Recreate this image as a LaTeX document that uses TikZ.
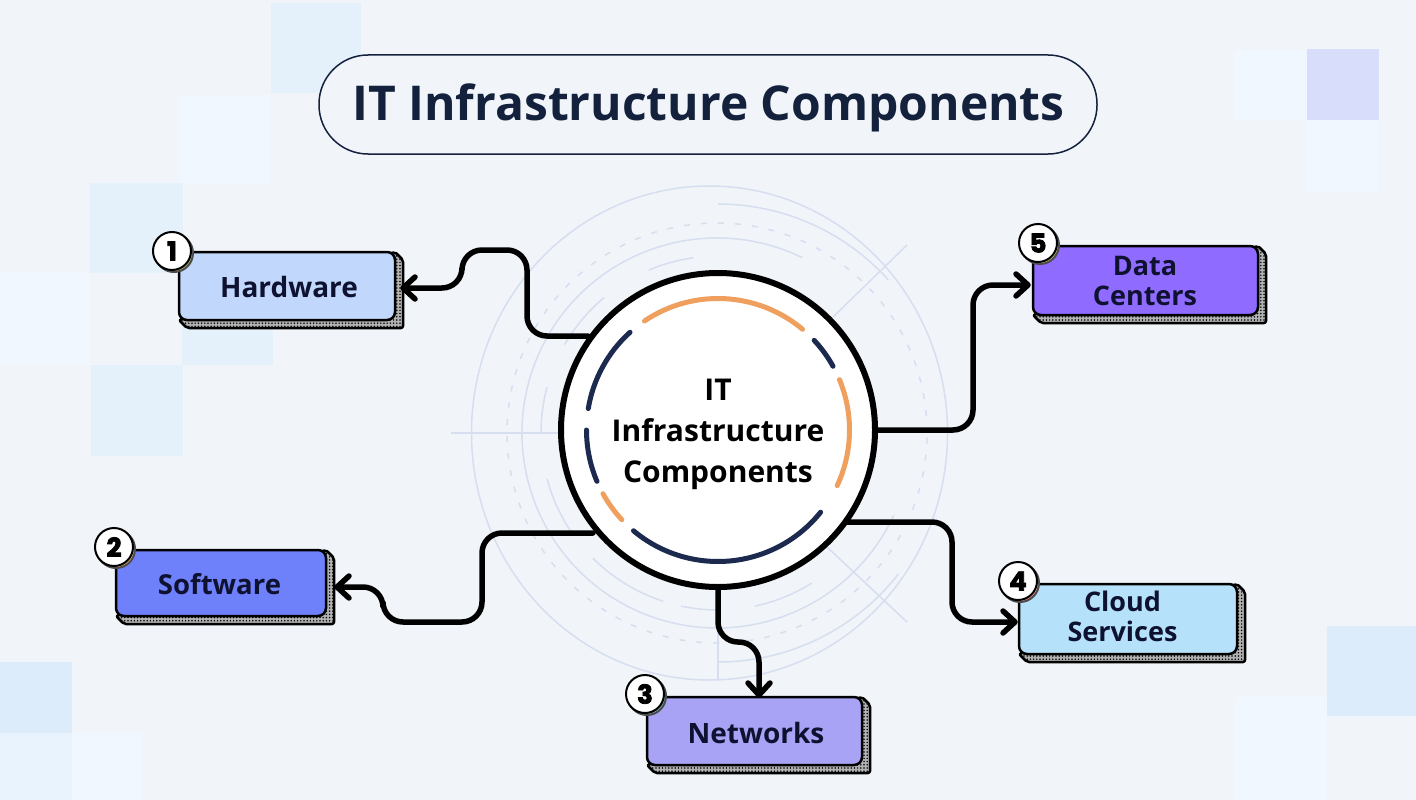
\documentclass[tikz,border=0pt]{standalone}
\usepackage{fontspec}
\setmainfont{Open Sans}[BoldFont={Open Sans Bold}]
\newfontfamily\numf[BoldFeatures={FakeBold=3}]{Poppins}
\usetikzlibrary{arrows.meta,patterns.meta}
\definecolor{bgc}{HTML}{F1F5FA}
\definecolor{navy}{HTML}{14213D}
\definecolor{ringc}{HTML}{D6DEEF}
\definecolor{orangec}{HTML}{EFA05E}
\definecolor{navyarc}{HTML}{1B2A4E}
\definecolor{sqa}{HTML}{E4F1FA}
\definecolor{sqb}{HTML}{F1F7FE}
\definecolor{sqc}{HTML}{D9DDFC}
\definecolor{sqd}{HTML}{DDECFA}
\definecolor{sqe}{HTML}{E9F3FD}
\definecolor{hwc}{HTML}{C1D7FB}
\definecolor{swc}{HTML}{6E80FA}
\definecolor{nwc}{HTML}{A9A3F5}
\definecolor{clc}{HTML}{B5E2FA}
\definecolor{dcc}{HTML}{8F6BFF}
\definecolor{txtc}{HTML}{0E1230}
\newcommand{\ringarc}[7][ringline]{\draw[#1] ({#2+#4*cos(#5)},{#3-#4*sin(#5)}) arc[start angle=#5,end angle=#6,radius=#4 pt]#7;}
\tikzset{
  x=1pt,y=-1pt,
  ringline/.style={draw=ringc,line width=1.5pt},
  ringdash/.style={draw=ringc,line width=1.5pt,dash pattern=on 6pt off 11pt},
  arcor/.style={draw=orangec,line width=5pt,line cap=round},
  arcna/.style={draw=navyarc,line width=5pt,line cap=round},
  compbox/.style={draw=black,line width=2.5pt,rounded corners=8pt,minimum height=#1,inner sep=0pt},
  boxlabel/.style={inner sep=0pt,align=center,text=txtc,font=\bfseries\fontsize{#1}{30}\selectfont},
  shadowbox/.style={draw=black,line width=2.5pt,fill=black!30,line join=round,rounded corners=2pt,postaction={pattern={Dots[distance=3.2pt,radius=0.85pt]},pattern color=black}},
  badge/.style={circle,draw=black,line width=2pt,fill=white,minimum size=38pt,inner sep=0pt,font=\numf\bfseries\fontsize{26}{26}\selectfont,text=black},
  conn/.style={draw=black,line width=5.5pt,rounded corners=20pt,line cap=round},
  connarrow/.style={conn,-{Straight Barb[length=12pt,width=22pt,line width=5.5pt,round]}},
}
\newcommand{\sq}[5]{\fill[#1] (#2,#3) rectangle (#4,#5);}
\newcommand{\boxshadow}[4]{\draw[shadowbox] (#1,#4) -- (#1+8,#4+8) -- (#3+8,#4+8) -- (#3+8,#2+8) -- (#3,#2) -- cycle;}
\begin{document}
\begin{tikzpicture}
\useasboundingbox (0,0) rectangle (1416,800);
\fill[bgc] (0,0) rectangle (1416,800);
% background squares
\sq{sqa}{271}{3}{361}{93}
\sq{sqc}{1307}{49}{1379}{120}
\sq{sqa}{90}{183}{183}{273}
\sq{sqa}{91}{365}{183}{456}
\sq{sqa}{182}{273}{273}{365}
\sq{sqd}{0}{662}{72}{733}
\sq{sqd}{1327}{626}{1416}{716}
\sq{sqb}{0}{273}{90}{365}
\sq{sqb}{180}{95}{270}{183}
\sq{sqb}{1235}{50}{1307}{120}
\sq{sqb}{1307}{120}{1379}{192}
\sq{sqb}{1235}{697}{1327}{800}
\sq{sqb}{72}{733}{142}{800}
\sq{sqe}{0}{733}{72}{800}
% decorative rings
\draw[ringline] (709.5,433) ellipse[x radius=238pt,y radius=247pt];
\ringarc{717}{433}{195}{64}{335}{}
\draw[ringdash] (717,433) circle[radius=210pt];
\ringarc{718}{433}{229}{90}{42}{}
\ringarc{718}{433}{229}{270}{322}{}
\ringarc{718}{433}{177}{98}{113}{}
\ringarc{718}{433}{177}{130}{150}{}
\ringarc{718}{433}{177}{165}{180}{}
\ringarc{718}{433}{177}{195}{215}{}
\ringarc{718}{433}{177}{225}{252}{}
\ringarc{718}{433}{177}{258}{270}{}
\ringarc{718}{433}{177}{282}{302}{}
\draw[ringline] (451,433) -- (560,433);
\draw[ringline] (718,590) -- (718,680);
\draw[ringline] (833,317) -- (907,245);
\draw[ringline] (827,547) -- (907,622);
% title
\node[draw=navy,line width=1.5pt,fill=bgc,rounded corners=49pt,minimum width=778pt,minimum height=99pt,inner sep=0pt] (title) at (708,104.5) {};
\node[inner sep=0pt,text=navy,font=\bfseries\fontsize{48}{56}\selectfont] (titlet) at (708.5,108) {IT Infrastructure Components};
% boxes
\boxshadow{179}{252}{395}{320}
\node[compbox=68pt,fill=hwc,minimum width=216pt] (hw) at (287,286) {};
\node[boxlabel=28] (hwt) at (289,287) {Hardware};
\boxshadow{116}{550}{326}{616}
\node[compbox=66pt,fill=swc,minimum width=210pt] (sw) at (221,583) {};
\node[boxlabel=27.5] (swt) at (219.5,584) {Software};
\boxshadow{647}{697}{862}{765}
\node[compbox=68pt,fill=nwc,minimum width=215pt] (nw) at (754.5,731) {};
\node[boxlabel=28] (nwt) at (756,733) {Networks};
\boxshadow{1019}{584}{1237}{654}
\node[compbox=70pt,fill=clc,minimum width=218pt] (cl) at (1128,619) {};
\node[boxlabel=27] (clt) at (1122.5,616.5) {Cloud\\Services};
\boxshadow{1033}{246}{1258}{315}
\node[compbox=69pt,fill=dcc,minimum width=225pt] (dc) at (1145.5,280.5) {};
\node[boxlabel=27] (dct) at (1145,280.5) {Data\\Centers};
% connectors
\draw[connarrow] (718,430) ++(-130,-94) coordinate (c1s) -| (527,250) -- (462,250) -- (462,288) -- ([shift={(4,2)}]hw.east);
\draw[connarrow] (718,430) ++(-125,103) coordinate (c2s) -| (482,622) -- (383,622) -- (383,587) -- ([shift={(7,4)}]sw.east);
\draw[connarrow] (718,585) coordinate (c3s) -- (718,642) -- (759,642) -- ([yshift=-2pt]nw.north -| 759,0);
\draw[connarrow] (718,430) ++(120,92) coordinate (c4s) -| (952,622) -- ([shift={(0,3)}]cl.west);
\draw[connarrow] (870,430) coordinate (c5s) -- (973,430) -- (973,285) -- ([shift={(-1,4.5)}]dc.west);
% centre
\node[circle,draw=black,line width=6pt,fill=white,minimum size=314pt,inner sep=0pt] (core) at (718,430) {};
\node[inner sep=0pt,align=center,text=black,font=\bfseries\fontsize{30}{41}\selectfont] (coret) at (718,434.5) {IT\\Infrastructure\\Components};
\ringarc[arcor]{718}{430}{131.5}{50}{124}{}
\ringarc[arcna]{718}{430}{131.5}{29}{43}{}
\ringarc[arcor]{718}{430}{131.5}{-25}{22.5}{}
\ringarc[arcna]{718}{430}{131.5}{-130}{-38.7}{}
\ringarc[arcor]{718}{430}{131.5}{209}{223}{}
\ringarc[arcna]{718}{430}{131.5}{180}{203}{}
\ringarc[arcna]{718}{430}{131.5}{132}{170.6}{}
% badges
\node[badge,draw=black!70,fill=olive!50] (b1s) at (174,253) {};
\node[badge] (b1) at (172,251) {1};
\node[badge,draw=black!70,fill=orange!50] (b2s) at (116,549) {};
\node[badge] (b2) at (114,547) {2};
\node[badge,draw=black!70,fill=teal!50] (b3s) at (647,696) {};
\node[badge] (b3) at (645,694) {3};
\node[badge,draw=black!70,fill=red!40] (b4s) at (1020,583) {};
\node[badge] (b4) at (1018,581) {4};
\node[badge,draw=black!70,fill=olive!40] (b5s) at (1040,245) {};
\node[badge] (b5) at (1038,243) {5};
\end{tikzpicture}
\end{document}
